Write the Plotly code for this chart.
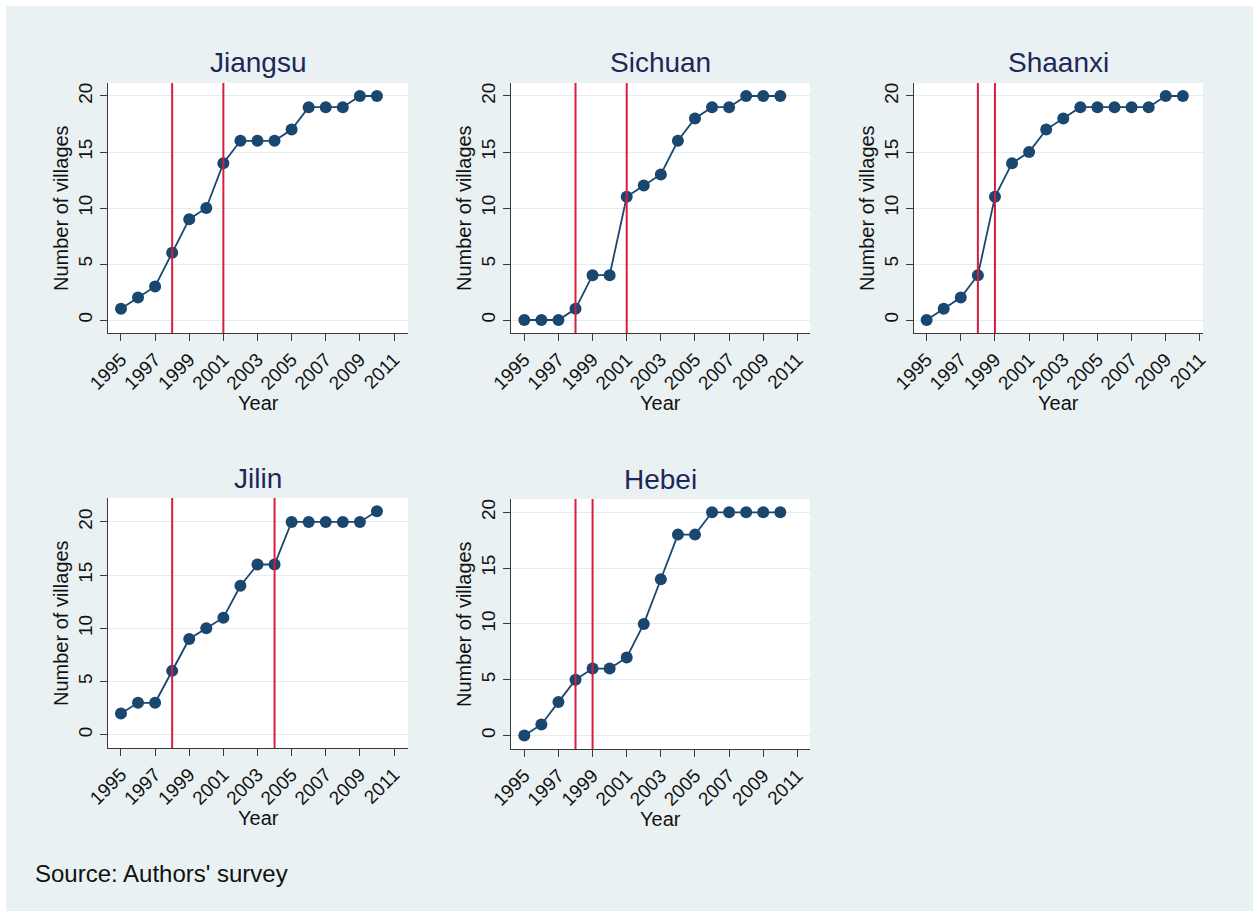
import plotly.graph_objects as go

W, H = 1253, 911

years = [1995, 1996, 1997, 1998, 1999, 2000, 2001, 2002,
         2003, 2004, 2005, 2006, 2007, 2008, 2009, 2010]

provinces = ["Jiangsu", "Sichuan", "Shaanxi", "Jilin", "Hebei"]

jiangsu = [1, 2, 3, 6, 9, 10, 14, 16, 16, 16, 17, 19, 19, 19, 20, 20]
sichuan = [0, 0, 0, 1, 4, 4, 11, 12, 13, 16, 18, 19, 19, 20, 20, 20]
shaanxi = [0, 1, 2, 4, 11, 14, 15, 17, 18, 19, 19, 19, 19, 19, 20, 20]
jilin = [2, 3, 3, 6, 9, 10, 11, 14, 16, 16, 20, 20, 20, 20, 20, 21]
hebei = [0, 1, 3, 5, 6, 6, 7, 10, 14, 18, 18, 20, 20, 20, 20, 20]

# Policy years marked with vertical lines in each panel
jiangsu_marks = [1998, 2001]
sichuan_marks = [1998, 2001]
shaanxi_marks = [1998, 1999]
jilin_marks = [1998, 2004]
hebei_marks = [1998, 1999]

x_ticks = [1995, 1997, 1999, 2001, 2003, 2005, 2007, 2009, 2011]
y_ticks = [0, 5, 10, 15, 20]

series = [jiangsu, sichuan, shaanxi, jilin, hebei]
marks = [jiangsu_marks, sichuan_marks, shaanxi_marks, jilin_marks, hebei_marks]

# Plot-area boxes in pixels: left, right, top, bottom
boxes = [
    (108, 408, 83, 333),
    (511, 810, 83, 333),
    (914, 1203, 83, 333),
    (108, 408, 498, 748),
    (511, 810, 499, 749),
]
x_ranges = [
    (1994.24, 2011.82),
    (1994.22, 2011.74),
    (1994.26, 2011.18),
    (1994.24, 2011.82),
    (1994.22, 2011.74),
]
y_ranges = [
    (-1.16, 21.16),
    (-1.16, 21.16),
    (-1.16, 21.16),
    (-1.25, 22.25),
    (-1.2, 21.19),
]

BG = "#eaf1f3"
NAVY = "#1a476f"
RED = "#d81e3f"
TITLE_C = "#1c2858"
FONT = "Liberation Sans, Arial, sans-serif"

fig = go.Figure()
layout = {}
shapes = []
annotations = []

# Thin white edge along the top and left of the light background
shapes.append(dict(type="rect", xref="paper", yref="paper",
                   x0=0, x1=6 / W, y0=0, y1=1,
                   fillcolor="white", line=dict(width=0), layer="below"))
shapes.append(dict(type="rect", xref="paper", yref="paper",
                   x0=0, x1=1, y0=1 - 6 / H, y1=1,
                   fillcolor="white", line=dict(width=0), layer="below"))

for i, (name, vals, mk, box, xr, yr) in enumerate(
        zip(provinces, series, marks, boxes, x_ranges, y_ranges)):
    n = "" if i == 0 else str(i + 1)
    xa, ya = "x" + n, "y" + n
    left, right, top, bottom = box

    fig.add_trace(go.Scatter(
        x=years, y=vals, xaxis=xa, yaxis=ya, mode="lines+markers",
        line=dict(color=NAVY, width=1.8),
        marker=dict(color=NAVY, size=12, symbol="circle"),
        showlegend=False, hoverinfo="x+y",
    ))

    axis_common = dict(
        showline=True, linecolor="#3a3a3a", linewidth=1,
        ticks="outside", ticklen=7, tickcolor="#3a3a3a", tickwidth=1,
        tickfont=dict(family=FONT, size=19, color="#111111"),
        zeroline=False, fixedrange=True, automargin=False,
    )
    layout["xaxis" + n] = dict(
        axis_common, domain=[left / W, right / W], anchor=ya,
        range=list(xr), tickmode="array", tickvals=x_ticks,
        ticktext=[str(t) for t in x_ticks], tickangle=-45,
        showgrid=False,
    )
    layout["yaxis" + n] = dict(
        axis_common, domain=[1 - bottom / H, 1 - top / H], anchor=xa,
        range=list(yr), tickmode="array", tickvals=y_ticks,
        tickangle=-90, showgrid=True, gridcolor="#e3ecee", gridwidth=1,
    )

    # Plot-area white fill
    shapes.append(dict(type="rect", xref=xa + " domain", yref=ya + " domain",
                       x0=0, x1=1, y0=0, y1=1, fillcolor="white",
                       line=dict(width=0), layer="below"))

    for m in mk:
        shapes.append(dict(type="line", xref=xa, yref=ya + " domain",
                           x0=m, x1=m, y0=0, y1=1,
                           line=dict(color=RED, width=2), layer="above"))

    cx = (left + right) / 2
    cy = (top + bottom) / 2
    annotations.append(dict(text=name, xref="paper", yref="paper",
                            x=cx / W, y=1 - (top - 20) / H,
                            xanchor="center", yanchor="middle", showarrow=False,
                            font=dict(family=FONT, size=28, color=TITLE_C)))
    annotations.append(dict(text="Year", xref="paper", yref="paper",
                            x=cx / W, y=1 - (bottom + 70) / H,
                            xanchor="center", yanchor="middle", showarrow=False,
                            font=dict(family=FONT, size=20, color="#111111")))
    annotations.append(dict(text="Number of villages", xref="paper", yref="paper",
                            x=(left - 47) / W, y=1 - cy / H, textangle=-90,
                            xanchor="center", yanchor="middle", showarrow=False,
                            font=dict(family=FONT, size=20, color="#111111")))

annotations.append(dict(text="Source: Authors' survey", xref="paper", yref="paper",
                        x=33 / W, y=1 - 873 / H, xanchor="left", yanchor="middle",
                        showarrow=False,
                        font=dict(family=FONT, size=24, color="#111111")))

fig.update_layout(
    width=W, height=H, margin=dict(l=0, r=0, t=0, b=0, autoexpand=False),
    paper_bgcolor=BG, plot_bgcolor="rgba(0,0,0,0)",
    shapes=shapes, annotations=annotations, **layout,
)

fig.write_html("out.html")
